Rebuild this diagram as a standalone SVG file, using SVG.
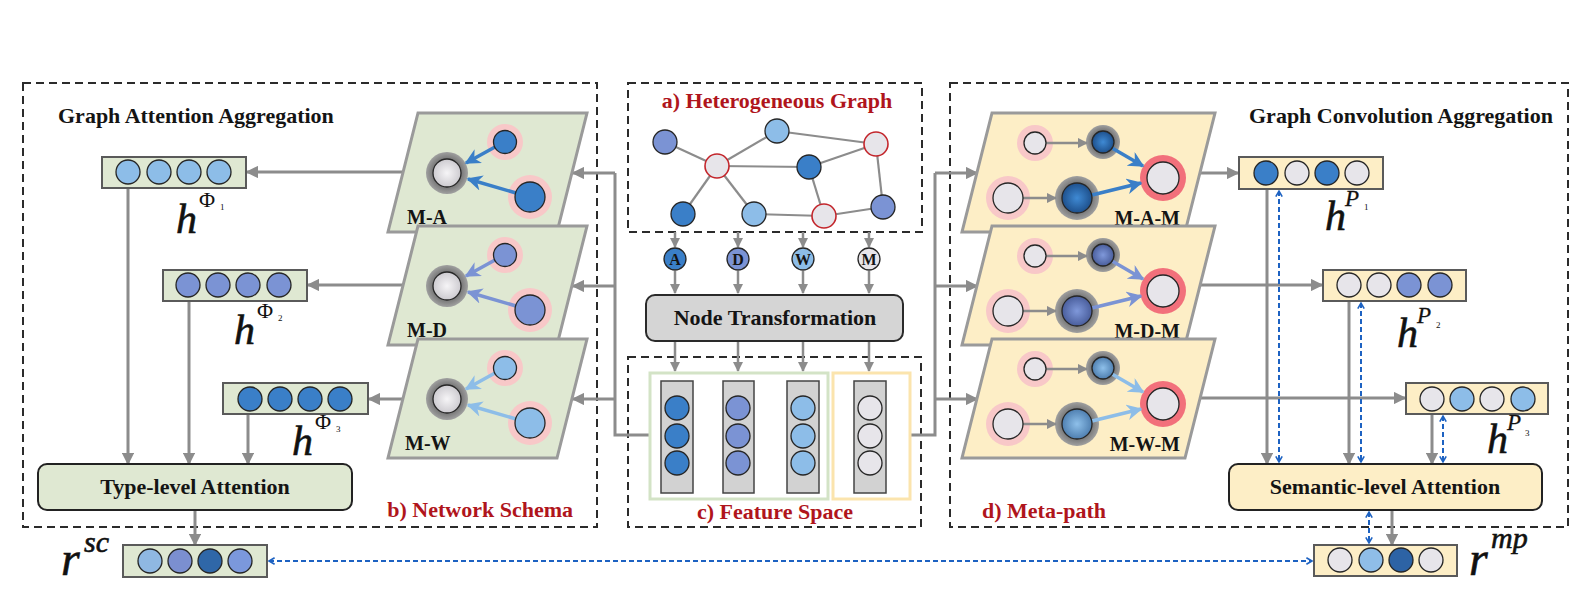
<svg xmlns="http://www.w3.org/2000/svg" width="1579" height="613" viewBox="0 0 1579 613">
<style>
.panel{fill:none;stroke:#2b2b2b;stroke-width:2;stroke-dasharray:8 5}
.t{font-family:"Liberation Serif","Times New Roman",serif;font-weight:bold;font-size:22px;fill:#141414}
.red{fill:#b0151c}
.lbl{font-family:"Liberation Serif","Times New Roman",serif;font-weight:bold;font-size:20px;fill:#141414}
.m{font-family:"Liberation Serif","Times New Roman",serif;font-style:italic;fill:#111;stroke:#111;stroke-width:0.6}
.u{font-family:"Liberation Serif","Times New Roman",serif;fill:#111}
.conn{stroke:#8c8c8c;stroke-width:3;fill:none}
.cthin{stroke:#8c8c8c;stroke-width:2.5;fill:none}
.dash{stroke:#1d62c2;stroke-width:2;stroke-dasharray:5 3;fill:none}
.gbox{fill:#dfe8d2;stroke:#5a5a5a;stroke-width:2}
.ybox{fill:#fdeec6;stroke:#5a5a5a;stroke-width:2}
.gpar{fill:#dfe8d2;stroke:#9a9a9a;stroke-width:3}
.ypar{fill:#fdeec6;stroke:#9a9a9a;stroke-width:3}
.c{stroke:#262626;stroke-width:1.3}
.dk{fill:#3a7fc8}.md{fill:#7b93d4}.lt{fill:#8dbde8}.gr{fill:#e7e5ea}
.pink{fill:#f8c8c8}.redh{fill:#f2707b}
</style>
<defs>
<marker id="ga" viewBox="0 0 10 10" refX="9" refY="5" markerWidth="4.2" markerHeight="4.2" orient="auto" markerUnits="strokeWidth"><path d="M0,0 L10,5 L0,10 z" fill="#8c8c8c"/></marker>
<marker id="ba" viewBox="0 0 10 10" refX="8" refY="5" markerWidth="4" markerHeight="4" orient="auto-start-reverse" markerUnits="strokeWidth"><path d="M1,1 L8,5 L1,9" fill="none" stroke="#1d62c2" stroke-width="2"/></marker>
<marker id="a1" viewBox="0 0 10 10" refX="9" refY="5" markerWidth="4.5" markerHeight="4.5" orient="auto" markerUnits="strokeWidth"><path d="M0,0 L10,5 L0,10 L3,5 z" fill="#3a7fc8"/></marker>
<marker id="a2" viewBox="0 0 10 10" refX="9" refY="5" markerWidth="4.5" markerHeight="4.5" orient="auto" markerUnits="strokeWidth"><path d="M0,0 L10,5 L0,10 L3,5 z" fill="#7b93d4"/></marker>
<marker id="a3" viewBox="0 0 10 10" refX="9" refY="5" markerWidth="4.5" markerHeight="4.5" orient="auto" markerUnits="strokeWidth"><path d="M0,0 L10,5 L0,10 L3,5 z" fill="#8dbde8"/></marker>
<radialGradient id="cg"><stop offset="0" stop-color="#f6f5f7"/><stop offset="1" stop-color="#cdcbd0"/></radialGradient>
<radialGradient id="hg"><stop offset="0.6" stop-color="#6e6e6e"/><stop offset="1" stop-color="#a0a0a0"/></radialGradient>
<radialGradient id="d1"><stop offset="0" stop-color="#3f8ad4"/><stop offset="1" stop-color="#1e508c"/></radialGradient>
<radialGradient id="d2"><stop offset="0" stop-color="#7f98da"/><stop offset="1" stop-color="#4a5e9c"/></radialGradient>
<radialGradient id="d3"><stop offset="0" stop-color="#8ec0ea"/><stop offset="1" stop-color="#4f7fb0"/></radialGradient>
</defs>
<rect width="1579" height="613" fill="#fff"/>

<!-- panels -->
<g id="panels">
<rect class="panel" x="23" y="83" width="574" height="444"/>
<rect class="panel" x="628" y="83" width="294" height="149"/>
<rect class="panel" x="628" y="357" width="293" height="170"/>
<rect class="panel" x="950" y="83" width="618" height="444"/>
<text class="t" x="58" y="123">Graph Attention Aggregation</text>
<text class="t" x="1249" y="123">Graph Convolution Aggregation</text>
<text class="t red" x="777" y="108" text-anchor="middle">a) Heterogeneous Graph</text>
<text class="t red" x="573" y="517" text-anchor="end">b) Network Schema</text>
<text class="t red" x="775" y="519" text-anchor="middle">c) Feature Space</text>
<text class="t red" x="982" y="518">d) Meta-path</text>
</g>

<!-- connectors -->
<g id="connectors">
<line class="cthin" x1="675" y1="232" x2="675" y2="247" marker-end="url(#ga)"/>
<line class="cthin" x1="738" y1="232" x2="738" y2="247" marker-end="url(#ga)"/>
<line class="cthin" x1="803" y1="232" x2="803" y2="247" marker-end="url(#ga)"/>
<line class="cthin" x1="869" y1="232" x2="869" y2="247" marker-end="url(#ga)"/>
<line class="cthin" x1="675" y1="271" x2="675" y2="293" marker-end="url(#ga)"/>
<line class="cthin" x1="738" y1="271" x2="738" y2="293" marker-end="url(#ga)"/>
<line class="cthin" x1="803" y1="271" x2="803" y2="293" marker-end="url(#ga)"/>
<line class="cthin" x1="869" y1="271" x2="869" y2="293" marker-end="url(#ga)"/>
<line class="cthin" x1="675" y1="342" x2="675" y2="371" marker-end="url(#ga)"/>
<line class="cthin" x1="738" y1="342" x2="738" y2="371" marker-end="url(#ga)"/>
<line class="cthin" x1="803" y1="342" x2="803" y2="371" marker-end="url(#ga)"/>
<line class="cthin" x1="869" y1="342" x2="869" y2="371" marker-end="url(#ga)"/>
<path class="conn" d="M650,435 H615 V173"/>
<line class="conn" x1="615" y1="173" x2="573" y2="173" marker-end="url(#ga)"/>
<line class="conn" x1="615" y1="286" x2="573" y2="286" marker-end="url(#ga)"/>
<line class="conn" x1="615" y1="399" x2="573" y2="399" marker-end="url(#ga)"/>
<path class="conn" d="M910,435 H935 V173"/>
<line class="conn" x1="935" y1="173" x2="977" y2="173" marker-end="url(#ga)"/>
<line class="conn" x1="935" y1="286" x2="977" y2="286" marker-end="url(#ga)"/>
<line class="conn" x1="935" y1="399" x2="977" y2="399" marker-end="url(#ga)"/>
<line class="conn" x1="403" y1="172" x2="247" y2="172" marker-end="url(#ga)"/>
<line class="conn" x1="403" y1="285" x2="308" y2="285" marker-end="url(#ga)"/>
<line class="conn" x1="403" y1="399" x2="369" y2="399" marker-end="url(#ga)"/>
<line class="conn" x1="128" y1="188" x2="128" y2="464" marker-end="url(#ga)"/>
<line class="conn" x1="189" y1="301" x2="189" y2="464" marker-end="url(#ga)"/>
<line class="conn" x1="248" y1="414" x2="248" y2="464" marker-end="url(#ga)"/>
<line class="conn" x1="195" y1="510" x2="195" y2="545" marker-end="url(#ga)"/>
<line class="conn" x1="1200" y1="173" x2="1238" y2="173" marker-end="url(#ga)"/>
<line class="conn" x1="1200" y1="285" x2="1322" y2="285" marker-end="url(#ga)"/>
<line class="conn" x1="1200" y1="398" x2="1405" y2="398" marker-end="url(#ga)"/>
<line class="conn" x1="1267" y1="189" x2="1267" y2="464" marker-end="url(#ga)"/>
<line class="conn" x1="1349" y1="301" x2="1349" y2="464" marker-end="url(#ga)"/>
<line class="conn" x1="1432" y1="414" x2="1432" y2="464" marker-end="url(#ga)"/>
<line class="conn" x1="1392" y1="510" x2="1392" y2="545" marker-end="url(#ga)"/>
<line class="dash" x1="1279" y1="191" x2="1279" y2="462" marker-start="url(#ba)" marker-end="url(#ba)"/>
<line class="dash" x1="1361" y1="303" x2="1361" y2="462" marker-start="url(#ba)" marker-end="url(#ba)"/>
<line class="dash" x1="1443" y1="416" x2="1443" y2="462" marker-start="url(#ba)" marker-end="url(#ba)"/>
<line class="dash" x1="1369" y1="512" x2="1369" y2="543" marker-start="url(#ba)" marker-end="url(#ba)"/>
<line class="dash" x1="269" y1="561" x2="1312" y2="561" marker-start="url(#ba)" marker-end="url(#ba)"/>
</g>

<!-- heterogeneous graph -->
<g id="hetero-graph">
<g stroke="#8c8c8c" stroke-width="2.2">
<line x1="665" y1="142" x2="717" y2="166"/>
<line x1="717" y1="166" x2="777" y2="131"/>
<line x1="777" y1="131" x2="876" y2="144"/>
<line x1="717" y1="166" x2="809" y2="167"/>
<line x1="809" y1="167" x2="876" y2="144"/>
<line x1="717" y1="166" x2="683" y2="214"/>
<line x1="717" y1="166" x2="754" y2="214"/>
<line x1="754" y1="214" x2="824" y2="216"/>
<line x1="809" y1="167" x2="824" y2="216"/>
<line x1="824" y1="216" x2="883" y2="207"/>
<line x1="876" y1="144" x2="883" y2="207"/>
</g>
<circle class="md c" cx="665" cy="142" r="12"/>
<circle class="gr" cx="717" cy="166" r="12" stroke="#c3262c" stroke-width="1.6"/>
<circle class="lt c" cx="777" cy="131" r="12"/>
<circle class="gr" cx="876" cy="144" r="12" stroke="#c3262c" stroke-width="1.6"/>
<circle class="dk c" cx="809" cy="167" r="12"/>
<circle class="dk c" cx="683" cy="214" r="12"/>
<circle class="lt c" cx="754" cy="214" r="12"/>
<circle class="gr" cx="824" cy="216" r="12" stroke="#c3262c" stroke-width="1.6"/>
<circle class="md c" cx="883" cy="207" r="12"/>
</g>

<g id="type-nodes">
<circle class="dk c" cx="675" cy="259" r="11"/>
<circle class="md c" cx="738" cy="259" r="11"/>
<circle class="lt c" cx="803" cy="259" r="11"/>
<circle class="gr c" cx="869" cy="259" r="11"/>
<g class="lbl" style="font-size:16px" text-anchor="middle">
<text x="675" y="265">A</text><text x="738" y="265">D</text><text x="803" y="265">W</text><text x="869" y="265">M</text>
</g>
</g>

<g id="node-transformation">
<rect x="646" y="295" width="257" height="46" rx="9" fill="#d5d5d5" stroke="#2a2a2a" stroke-width="2"/>
<text class="t" x="775" y="325" text-anchor="middle">Node Transformation</text>
</g>

<g id="feature-space">
<rect x="650" y="373" width="178" height="126" fill="none" stroke="#d3e3c6" stroke-width="3"/>
<rect x="833" y="373" width="77" height="126" fill="none" stroke="#fbe4ad" stroke-width="3"/>
<rect x="661" y="381" width="32" height="112" fill="#d2d2d2" stroke="#444" stroke-width="1.5"/>
<rect x="723" y="381" width="31" height="112" fill="#d2d2d2" stroke="#444" stroke-width="1.5"/>
<rect x="787" y="381" width="32" height="112" fill="#d2d2d2" stroke="#444" stroke-width="1.5"/>
<rect x="854" y="381" width="32" height="112" fill="#d2d2d2" stroke="#444" stroke-width="1.5"/>
<circle class="dk c" cx="677" cy="408" r="12"/><circle class="dk c" cx="677" cy="436" r="12"/><circle class="dk c" cx="677" cy="463" r="12"/>
<circle class="md c" cx="738" cy="408" r="12"/><circle class="md c" cx="738" cy="436" r="12"/><circle class="md c" cx="738" cy="463" r="12"/>
<circle class="lt c" cx="803" cy="408" r="12"/><circle class="lt c" cx="803" cy="436" r="12"/><circle class="lt c" cx="803" cy="463" r="12"/>
<circle class="gr c" cx="870" cy="408" r="12"/><circle class="gr c" cx="870" cy="436" r="12"/><circle class="gr c" cx="870" cy="463" r="12"/>
</g>

<!-- network schema -->
<g id="schema-M-A">
<polygon class="gpar" points="418,113 587,113 557,232 388,232"/>
<circle class="pink" cx="505" cy="142" r="18"/><circle class="pink" cx="530" cy="197" r="22"/>
<circle fill="url(#hg)" cx="447" cy="173" r="21"/>
<line x1="495" y1="147" x2="466" y2="163" stroke="#3a7fc8" stroke-width="3.5" marker-end="url(#a1)"/>
<line x1="516" y1="193" x2="468" y2="179" stroke="#3a7fc8" stroke-width="3.5" marker-end="url(#a1)"/>
<circle class="dk c" cx="505" cy="142" r="11.5"/><circle class="dk c" cx="530" cy="197" r="15"/>
<circle fill="url(#cg)" class="c" stroke-width="1.6" cx="447" cy="173" r="14"/>
<text class="lbl" x="407" y="224">M-A</text>
</g>
<g id="schema-M-D">
<polygon class="gpar" points="418,226 587,226 557,345 388,345"/>
<circle class="pink" cx="505" cy="255" r="18"/><circle class="pink" cx="530" cy="310" r="22"/>
<circle fill="url(#hg)" cx="447" cy="286" r="21"/>
<line x1="495" y1="260" x2="466" y2="276" stroke="#7b93d4" stroke-width="3.5" marker-end="url(#a2)"/>
<line x1="516" y1="306" x2="468" y2="292" stroke="#7b93d4" stroke-width="3.5" marker-end="url(#a2)"/>
<circle class="md c" cx="505" cy="255" r="11.5"/><circle class="md c" cx="530" cy="310" r="15"/>
<circle fill="url(#cg)" class="c" stroke-width="1.6" cx="447" cy="286" r="14"/>
<text class="lbl" x="407" y="337">M-D</text>
</g>
<g id="schema-M-W">
<polygon class="gpar" points="418,339 587,339 557,458 388,458"/>
<circle class="pink" cx="505" cy="368" r="18"/><circle class="pink" cx="530" cy="423" r="22"/>
<circle fill="url(#hg)" cx="447" cy="399" r="21"/>
<line x1="495" y1="373" x2="466" y2="389" stroke="#8dbde8" stroke-width="3.5" marker-end="url(#a3)"/>
<line x1="516" y1="419" x2="468" y2="405" stroke="#8dbde8" stroke-width="3.5" marker-end="url(#a3)"/>
<circle class="lt c" cx="505" cy="368" r="11.5"/><circle class="lt c" cx="530" cy="423" r="15"/>
<circle fill="url(#cg)" class="c" stroke-width="1.6" cx="447" cy="399" r="14"/>
<text class="lbl" x="405" y="450">M-W</text>
</g>

<!-- meta-path -->
<g id="metapath-M-A-M">
<polygon class="ypar" points="992,113 1215,113 1185,232 962,232"/>
<circle class="pink" cx="1035" cy="143" r="18"/><circle class="pink" cx="1008" cy="198" r="22"/>
<circle fill="url(#hg)" cx="1103" cy="142" r="17"/><circle fill="url(#hg)" cx="1077" cy="198" r="22"/>
<circle class="redh" cx="1163" cy="178" r="23"/>
<line class="cthin" x1="1046" y1="143" x2="1087" y2="143" marker-end="url(#ga)"/>
<line class="cthin" x1="1023" y1="198" x2="1056" y2="198" marker-end="url(#ga)"/>
<line x1="1112" y1="148" x2="1143" y2="166" stroke="#3a7fc8" stroke-width="3.5" marker-end="url(#a1)"/>
<line x1="1092" y1="195" x2="1141" y2="183" stroke="#3a7fc8" stroke-width="3.5" marker-end="url(#a1)"/>
<circle class="gr c" cx="1035" cy="143" r="11"/><circle class="gr c" cx="1008" cy="198" r="15"/>
<circle fill="url(#d1)" class="c" cx="1103" cy="142" r="11"/><circle fill="url(#d1)" class="c" cx="1077" cy="198" r="15"/>
<circle class="gr c" stroke-width="1.8" cx="1163" cy="178" r="16"/>
<text class="lbl" x="1180" y="225" text-anchor="end">M-A-M</text>
</g>
<g id="metapath-M-D-M">
<polygon class="ypar" points="992,226 1215,226 1185,345 962,345"/>
<circle class="pink" cx="1035" cy="256" r="18"/><circle class="pink" cx="1008" cy="311" r="22"/>
<circle fill="url(#hg)" cx="1103" cy="255" r="17"/><circle fill="url(#hg)" cx="1077" cy="311" r="22"/>
<circle class="redh" cx="1163" cy="291" r="23"/>
<line class="cthin" x1="1046" y1="256" x2="1087" y2="256" marker-end="url(#ga)"/>
<line class="cthin" x1="1023" y1="311" x2="1056" y2="311" marker-end="url(#ga)"/>
<line x1="1112" y1="261" x2="1143" y2="279" stroke="#7b93d4" stroke-width="3.5" marker-end="url(#a2)"/>
<line x1="1092" y1="308" x2="1141" y2="296" stroke="#7b93d4" stroke-width="3.5" marker-end="url(#a2)"/>
<circle class="gr c" cx="1035" cy="256" r="11"/><circle class="gr c" cx="1008" cy="311" r="15"/>
<circle fill="url(#d2)" class="c" cx="1103" cy="255" r="11"/><circle fill="url(#d2)" class="c" cx="1077" cy="311" r="15"/>
<circle class="gr c" stroke-width="1.8" cx="1163" cy="291" r="16"/>
<text class="lbl" x="1180" y="338" text-anchor="end">M-D-M</text>
</g>
<g id="metapath-M-W-M">
<polygon class="ypar" points="992,339 1215,339 1185,458 962,458"/>
<circle class="pink" cx="1035" cy="369" r="18"/><circle class="pink" cx="1008" cy="424" r="22"/>
<circle fill="url(#hg)" cx="1103" cy="368" r="17"/><circle fill="url(#hg)" cx="1077" cy="424" r="22"/>
<circle class="redh" cx="1163" cy="404" r="23"/>
<line class="cthin" x1="1046" y1="369" x2="1087" y2="369" marker-end="url(#ga)"/>
<line class="cthin" x1="1023" y1="424" x2="1056" y2="424" marker-end="url(#ga)"/>
<line x1="1112" y1="374" x2="1143" y2="392" stroke="#8dbde8" stroke-width="3.5" marker-end="url(#a3)"/>
<line x1="1092" y1="421" x2="1141" y2="409" stroke="#8dbde8" stroke-width="3.5" marker-end="url(#a3)"/>
<circle class="gr c" cx="1035" cy="369" r="11"/><circle class="gr c" cx="1008" cy="424" r="15"/>
<circle fill="url(#d3)" class="c" cx="1103" cy="368" r="11"/><circle fill="url(#d3)" class="c" cx="1077" cy="424" r="15"/>
<circle class="gr c" stroke-width="1.8" cx="1163" cy="404" r="16"/>
<text class="lbl" x="1180" y="451" text-anchor="end">M-W-M</text>
</g>

<!-- left vectors -->
<g id="h-phi1">
<rect class="gbox" x="102" y="157" width="144" height="31"/>
<circle class="lt c" cx="128" cy="172" r="12"/><circle class="lt c" cx="159" cy="172" r="12"/><circle class="lt c" cx="189" cy="172" r="12"/><circle class="lt c" cx="219" cy="172" r="12"/>
<text class="m" x="176" y="233" font-size="42">h</text><text class="u" x="199" y="207" font-size="22">Φ</text><text class="u" x="220" y="210" font-size="9">1</text>
</g>
<g id="h-phi2">
<rect class="gbox" x="163" y="270" width="144" height="31"/>
<circle class="md c" cx="188" cy="285" r="12"/><circle class="md c" cx="218" cy="285" r="12"/><circle class="md c" cx="248" cy="285" r="12"/><circle class="md c" cx="279" cy="285" r="12"/>
<text class="m" x="234" y="344" font-size="42">h</text><text class="u" x="257" y="318" font-size="22">Φ</text><text class="u" x="278" y="321" font-size="9">2</text>
</g>
<g id="h-phi3">
<rect class="gbox" x="223" y="383" width="145" height="31"/>
<circle class="dk c" cx="250" cy="399" r="12"/><circle class="dk c" cx="280" cy="399" r="12"/><circle class="dk c" cx="310" cy="399" r="12"/><circle class="dk c" cx="340" cy="399" r="12"/>
<text class="m" x="292" y="455" font-size="42">h</text><text class="u" x="315" y="429" font-size="22">Φ</text><text class="u" x="336" y="432" font-size="9">3</text>
</g>
<g id="type-level-attention">
<rect x="38" y="464" width="314" height="46" rx="9" fill="#dfe8d2" stroke="#222" stroke-width="2"/>
<text class="t" x="195" y="494" text-anchor="middle">Type-level Attention</text>
</g>
<g id="r-sc">
<rect class="gbox" x="123" y="545" width="144" height="32"/>
<circle class="c" fill="#8fb8e2" cx="150" cy="561" r="12"/><circle class="c" fill="#7b8fd0" cx="180" cy="561" r="12"/><circle class="c" fill="#2f67a8" cx="210" cy="561" r="12"/><circle class="c" fill="#7b98dc" cx="240" cy="561" r="12"/>
<text class="m" x="61" y="575" font-size="48">r</text><text class="m" x="84" y="552" font-size="30">sc</text>
</g>

<!-- right vectors -->
<g id="h-p1">
<rect class="ybox" x="1239" y="157" width="144" height="32"/>
<circle class="dk c" cx="1266" cy="173" r="12"/><circle class="gr c" cx="1297" cy="173" r="12"/><circle class="dk c" cx="1327" cy="173" r="12"/><circle class="gr c" cx="1357" cy="173" r="12"/>
<text class="m" x="1325" y="230" font-size="42">h</text><text class="m" x="1345" y="206" font-size="23" style="stroke-width:0.3">P</text><text class="u" x="1364" y="210" font-size="9">1</text>
</g>
<g id="h-p2">
<rect class="ybox" x="1323" y="270" width="143" height="31"/>
<circle class="gr c" cx="1349" cy="285" r="12"/><circle class="gr c" cx="1379" cy="285" r="12"/><circle class="md c" cx="1409" cy="285" r="12"/><circle class="md c" cx="1440" cy="285" r="12"/>
<text class="m" x="1397" y="347" font-size="42">h</text><text class="m" x="1417" y="323" font-size="23" style="stroke-width:0.3">P</text><text class="u" x="1436" y="328" font-size="9">2</text>
</g>
<g id="h-p3">
<rect class="ybox" x="1406" y="383" width="142" height="31"/>
<circle class="gr c" cx="1432" cy="399" r="12"/><circle class="lt c" cx="1462" cy="399" r="12"/><circle class="gr c" cx="1492" cy="399" r="12"/><circle class="lt c" cx="1523" cy="399" r="12"/>
<text class="m" x="1487" y="453" font-size="42">h</text><text class="m" x="1507" y="430" font-size="23" style="stroke-width:0.3">P</text><text class="u" x="1525" y="436" font-size="9">3</text>
</g>
<g id="semantic-level-attention">
<rect x="1229" y="464" width="313" height="46" rx="9" fill="#fdeec6" stroke="#222" stroke-width="2"/>
<text class="t" x="1385" y="494" text-anchor="middle">Semantic-level Attention</text>
</g>
<g id="r-mp">
<rect class="ybox" x="1314" y="545" width="143" height="31"/>
<circle class="gr c" cx="1340" cy="560" r="12"/><circle class="c" fill="#8fbde8" cx="1371" cy="560" r="12"/><circle class="c" fill="#2d63a5" cx="1401" cy="560" r="12"/><circle class="gr c" cx="1431" cy="560" r="12"/>
<text class="m" x="1469" y="575" font-size="48">r</text><text class="m" x="1491" y="548" font-size="30">mp</text>
</g>
</svg>
